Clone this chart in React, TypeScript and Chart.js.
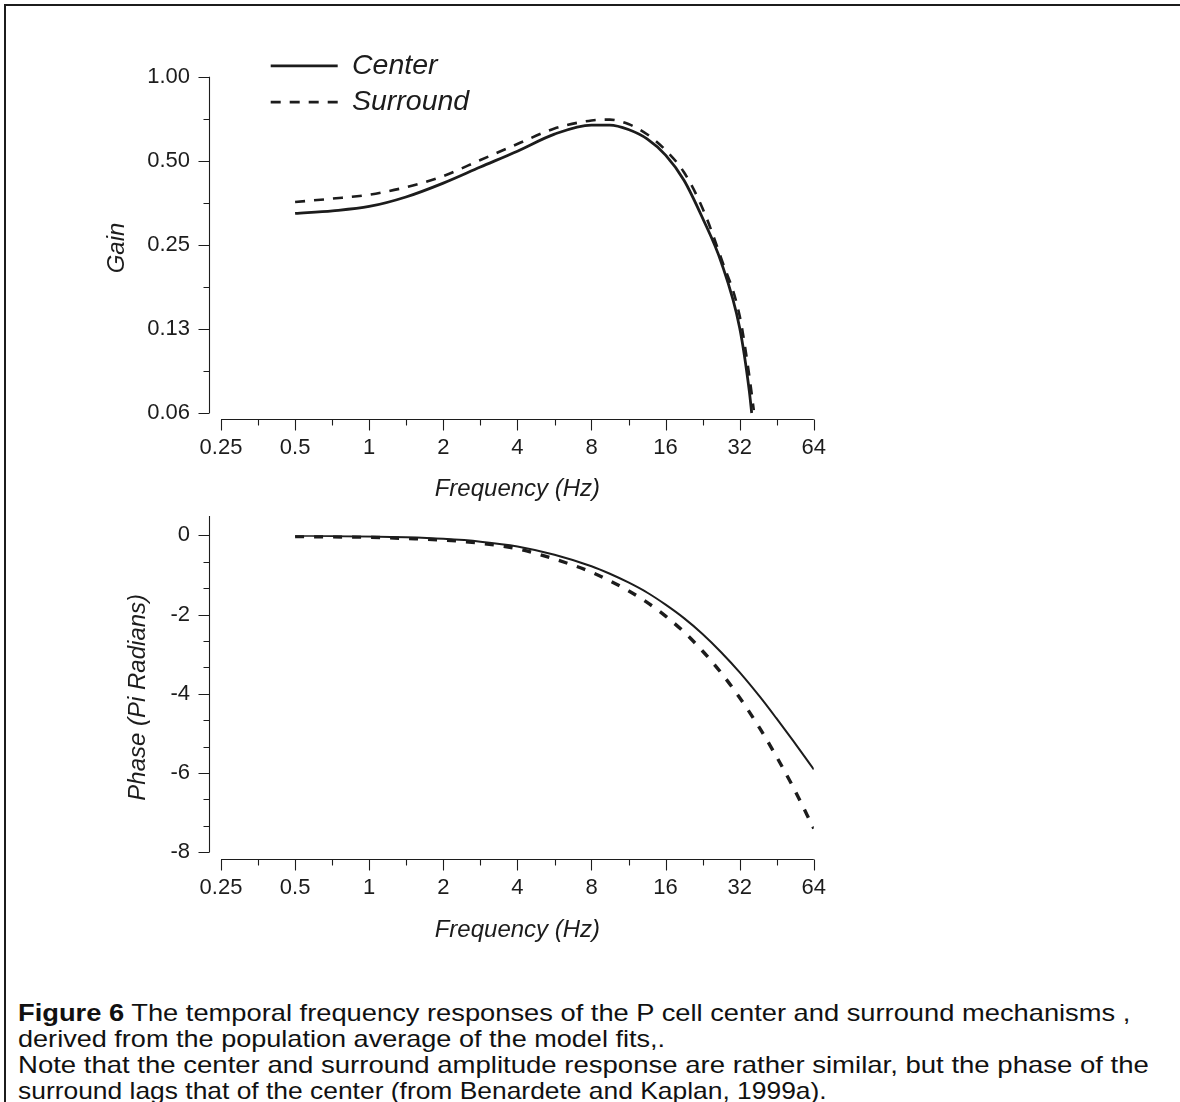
import React, { useEffect, useRef } from 'react';
import { Chart, registerables } from 'chart.js';

Chart.register(...registerables);

const FONT = "'Liberation Sans', Arial, Helvetica, sans-serif";
const INK = '#1c1c1c';

// ---------- data ----------
const gainFreqCenter = [0.5, 0.71, 1, 1.41, 2, 2.83, 4, 5.66, 8, 9.5, 11.3, 13.5, 16, 19, 22.6, 26.9, 32, 35, 35.8];
const gainCenter = [0.324, 0.331, 0.343, 0.371, 0.416, 0.475, 0.541, 0.623, 0.671, 0.671, 0.647, 0.598, 0.524, 0.426, 0.312, 0.217, 0.126, 0.075, 0.0625];
const gainFreqSurround = [0.5, 0.71, 1, 1.41, 2, 2.83, 4, 5.66, 8, 9.5, 11.3, 13.5, 16, 19, 22.6, 26.9, 32, 35, 36.5];
const gainSurround = [0.356, 0.366, 0.378, 0.402, 0.441, 0.503, 0.574, 0.652, 0.697, 0.702, 0.677, 0.621, 0.546, 0.455, 0.338, 0.224, 0.139, 0.085, 0.064];

const phaseFreq = [0.5, 0.71, 1, 1.41, 2, 2.83, 4, 5.66, 8, 9.5, 11.3, 13.5, 16, 19, 22.6, 26.9, 32, 38.7, 45, 52.8, 64];
const phaseCenter = [-0.01, -0.02, -0.03, -0.05, -0.09, -0.16, -0.28, -0.49, -0.78, -0.97, -1.19, -1.45, -1.75, -2.09, -2.49, -2.95, -3.46, -4.08, -4.61, -5.19, -5.91];
const phaseSurround = [-0.03, -0.04, -0.05, -0.08, -0.12, -0.2, -0.34, -0.6, -0.93, -1.15, -1.4, -1.7, -2.04, -2.44, -2.92, -3.47, -4.1, -4.88, -5.57, -6.36, -7.4];

// ---------- ticks ----------
const freqTicks = [0.25, 0.5, 1, 2, 4, 8, 16, 32, 64];
const freqTickLabels = ['0.25', '0.5', '1', '2', '4', '8', '16', '32', '64'];
const freqMinorTicks = [0.354, 0.707, 1.414, 2.83, 5.66, 11.31, 22.63, 45.25];

const gainTicks = [1, 0.5, 0.25, 0.125, 0.0625];
const gainTickLabels = ['1.00', '0.50', '0.25', '0.13', '0.06'];
const gainMinorTicks = [0.7071, 0.3536, 0.1768, 0.0884];

const phaseTicks = [0, -2, -4, -6, -8];
const phaseTickLabels = ['0', '-2', '-4', '-6', '-8'];
const phaseMinorTicks = [-0.667, -1.333, -2.667, -3.333, -4.667, -5.333, -6.667, -7.333];

const seriesLabels = ['Center', 'Surround'];

// ---------- helpers ----------
type AxesCfg = {
  yGap: number;
  yFrom: number;
  yTo: number;
  yMajor: number[];
  yMinor: number[];
  xMajor: number[];
  xMinor: number[];
};

function makeAxesPlugin(cfg: AxesCfg) {
  return {
    id: 'paperAxes',
    afterDraw(chart: any) {
      const { ctx, chartArea } = chart;
      const xs = chart.scales.x;
      const ys = chart.scales.y;
      const snap = (v: number) => Math.round(v) + 0.5;
      const MAJOR = 11;
      const MINOR = 6;
      ctx.save();
      ctx.strokeStyle = INK;
      ctx.lineWidth = 1.1;
      ctx.setLineDash([]);
      ctx.beginPath();
      const ax = snap(chartArea.left - cfg.yGap);
      ctx.moveTo(ax, ys.getPixelForValue(cfg.yFrom));
      ctx.lineTo(ax, ys.getPixelForValue(cfg.yTo));
      cfg.yMajor.forEach((v) => {
        const p = snap(ys.getPixelForValue(v));
        ctx.moveTo(ax - MAJOR, p);
        ctx.lineTo(ax, p);
      });
      cfg.yMinor.forEach((v) => {
        const p = snap(ys.getPixelForValue(v));
        ctx.moveTo(ax - MINOR, p);
        ctx.lineTo(ax, p);
      });
      const ay = snap(chartArea.bottom);
      const xFirst = cfg.xMajor[0];
      const xLast = cfg.xMajor[cfg.xMajor.length - 1];
      ctx.moveTo(xs.getPixelForValue(xFirst), ay);
      ctx.lineTo(xs.getPixelForValue(xLast), ay);
      cfg.xMajor.forEach((v) => {
        const p = snap(xs.getPixelForValue(v));
        ctx.moveTo(p, ay);
        ctx.lineTo(p, ay + MAJOR);
      });
      cfg.xMinor.forEach((v) => {
        const p = snap(xs.getPixelForValue(v));
        ctx.moveTo(p, ay);
        ctx.lineTo(p, ay + MINOR);
      });
      ctx.stroke();
      ctx.restore();
    },
  };
}

function makeLegendPlacer(left: number, top: number) {
  return {
    id: 'legendPlacer',
    afterLayout(chart: any) {
      const l = chart.legend;
      if (!l) return;
      l.left = left;
      l.top = top;
      l.width = 400;
      l.height = 110;
      l.right = left + 400;
      l.bottom = top + 110;
    },
  };
}

const pts = (xs: number[], ys: number[]) => xs.map((x, i) => ({ x, y: ys[i] }));

const W = 1180;
const TOP_H = 520;
const BOT_TOP = 490;
const BOT_H = 480;
const AREA_LEFT = 221;
const AREA_RIGHT = 813.8;

const tickFont = { family: FONT, size: 22 };
const titleFont = { family: FONT, size: 24, style: 'italic' as const };

function xScale(height: number, titlePadBottom: number) {
  return {
    type: 'logarithmic' as const,
    min: 0.25,
    max: 64,
    bounds: 'data' as const,
    grid: { display: false },
    border: { display: false },
    afterBuildTicks: (scale: any) => {
      scale.ticks = freqTicks.map((v) => ({ value: v }));
    },
    afterFit: (scale: any) => {
      scale.height = height;
    },
    ticks: {
      autoSkip: false,
      maxRotation: 0,
      padding: 7.6,
      color: INK,
      font: tickFont,
      callback: (_v: any, i: number) => freqTickLabels[i],
    },
    title: {
      display: true,
      text: 'Frequency (Hz)',
      color: INK,
      font: titleFont,
      padding: { top: 0, bottom: titlePadBottom },
    },
  };
}

function GainChart() {
  const ref = useRef<HTMLCanvasElement | null>(null);
  useEffect(() => {
    if (!ref.current) return;
    const chart = new Chart(ref.current, {
      type: 'line',
      data: {
        datasets: [
          {
            label: seriesLabels[0],
            data: pts(gainFreqCenter, gainCenter),
            borderColor: INK,
            backgroundColor: INK,
            borderWidth: 2.8,
            pointRadius: 0,
            cubicInterpolationMode: 'monotone',
          },
          {
            label: seriesLabels[1],
            data: pts(gainFreqSurround, gainSurround),
            borderColor: INK,
            backgroundColor: INK,
            borderWidth: 2.6,
            borderDash: [10, 9],
            pointRadius: 0,
            cubicInterpolationMode: 'monotone',
          },
        ],
      },
      options: {
        animation: false,
        responsive: false,
        devicePixelRatio: 1,
        layout: { padding: { left: 0, top: 76.7, right: W - AREA_RIGHT, bottom: 0 } },
        scales: {
          x: xScale(TOP_H - 419.3, 16.6) as any,
          y: {
            type: 'logarithmic',
            min: 0.05933,
            max: 1,
            bounds: 'data',
            grid: { display: false },
            border: { display: false },
            afterBuildTicks: (scale: any) => {
              scale.ticks = gainTicks.map((v) => ({ value: v }));
            },
            afterFit: (scale: any) => {
              scale.width = AREA_LEFT;
            },
            ticks: {
              autoSkip: false,
              padding: 23,
              color: INK,
              font: tickFont,
              callback: (_v: any, i: number) => gainTickLabels[i],
            },
            title: {
              display: true,
              text: 'Gain',
              color: INK,
              font: titleFont,
              padding: { top: 102.6, bottom: 0 },
            },
          } as any,
        },
        plugins: {
          tooltip: { enabled: false },
          legend: {
            display: true,
            position: 'chartArea',
            align: 'start',
            labels: {
              usePointStyle: true,
              pointStyle: 'line',
              pointStyleWidth: 67,
              padding: 7.7,
              color: INK,
              font: { family: FONT, size: 28.5, style: 'italic' },
              generateLabels: (c: any) =>
                c.data.datasets.map((ds: any, i: number) => ({
                  text: ds.label,
                  fillStyle: 'rgba(0,0,0,0)',
                  strokeStyle: ds.borderColor,
                  lineWidth: ds.borderWidth,
                  lineDash: ds.borderDash || [],
                  lineCap: 'butt',
                  pointStyle: 'line',
                  fontColor: INK,
                  hidden: false,
                  datasetIndex: i,
                })),
            },
          } as any,
        },
      },
      plugins: [
        makeAxesPlugin({
          yGap: 12,
          yFrom: 1,
          yTo: 0.0625,
          yMajor: gainTicks,
          yMinor: gainMinorTicks,
          xMajor: freqTicks,
          xMinor: freqMinorTicks,
        }),
        makeLegendPlacer(263, 44),
      ],
    });
    return () => chart.destroy();
  }, []);
  return (
    <canvas
      ref={ref}
      width={W}
      height={TOP_H}
      style={{ position: 'absolute', left: 0, top: 0, width: W, height: TOP_H }}
    />
  );
}

function PhaseChart() {
  const ref = useRef<HTMLCanvasElement | null>(null);
  useEffect(() => {
    if (!ref.current) return;
    const chart = new Chart(ref.current, {
      type: 'line',
      data: {
        datasets: [
          {
            label: seriesLabels[0],
            data: pts(phaseFreq, phaseCenter),
            borderColor: INK,
            borderWidth: 2,
            pointRadius: 0,
            cubicInterpolationMode: 'monotone',
          },
          {
            label: seriesLabels[1],
            data: pts(phaseFreq, phaseSurround),
            borderColor: INK,
            borderWidth: 3.4,
            borderDash: [9, 10],
            pointRadius: 0,
            cubicInterpolationMode: 'monotone',
          },
        ],
      },
      options: {
        animation: false,
        responsive: false,
        devicePixelRatio: 1,
        layout: { padding: { left: 0, top: 535.3 - BOT_TOP, right: W - AREA_RIGHT, bottom: 0 } },
        scales: {
          x: xScale(BOT_H - (859.3 - BOT_TOP), 25.6) as any,
          y: {
            type: 'linear',
            min: -8.177,
            max: 0,
            bounds: 'data',
            grid: { display: false },
            border: { display: false },
            afterBuildTicks: (scale: any) => {
              scale.ticks = phaseTicks.map((v) => ({ value: v }));
            },
            afterFit: (scale: any) => {
              scale.width = AREA_LEFT;
            },
            ticks: {
              autoSkip: false,
              padding: 23,
              color: INK,
              font: tickFont,
              callback: (_v: any, i: number) => phaseTickLabels[i],
            },
            title: {
              display: true,
              text: 'Phase (Pi Radians)',
              color: INK,
              font: titleFont,
              padding: { top: 123.6, bottom: 0 },
            },
          } as any,
        },
        plugins: {
          tooltip: { enabled: false },
          legend: { display: false },
        },
      },
      plugins: [
        makeAxesPlugin({
          yGap: 12,
          yFrom: 0.49,
          yTo: -8,
          yMajor: phaseTicks,
          yMinor: phaseMinorTicks,
          xMajor: freqTicks,
          xMinor: freqMinorTicks,
        }),
      ],
    });
    return () => chart.destroy();
  }, []);
  return (
    <canvas
      ref={ref}
      width={W}
      height={BOT_H}
      style={{ position: 'absolute', left: 0, top: BOT_TOP, width: W, height: BOT_H }}
    />
  );
}

const lineStyle = (sx: number): React.CSSProperties => ({
  height: 26,
  transform: `scaleX(${sx})`,
  transformOrigin: '0 0',
});

export default function App() {
  return (
    <div
      style={{
        position: 'fixed',
        left: 0,
        top: 0,
        width: W,
        height: 1102,
        overflow: 'hidden',
        background: '#fff',
      }}
    >
      <div
        style={{
          position: 'absolute',
          left: 4,
          top: 4,
          width: 1400,
          height: 1400,
          borderTop: `2px solid ${INK}`,
          borderLeft: `2px solid ${INK}`,
        }}
      />
      <GainChart />
      <PhaseChart />
      <div
        style={{
          position: 'absolute',
          left: 18,
          top: 1000,
          fontFamily: FONT,
          fontSize: 24,
          lineHeight: '26px',
          color: '#111',
          whiteSpace: 'nowrap',
        }}
      >
        <div style={lineStyle(1.137)}>
          <b>Figure 6</b> The temporal frequency responses of the P cell center and surround mechanisms ,
        </div>
        <div style={lineStyle(1.128)}>derived from the population average of the model fits,.</div>
        <div style={lineStyle(1.147)}>
          Note that the center and surround amplitude response are rather similar, but the phase of the
        </div>
        <div style={lineStyle(1.1)}>surround lags that of the center (from Benardete and Kaplan, 1999a).</div>
      </div>
    </div>
  );
}
